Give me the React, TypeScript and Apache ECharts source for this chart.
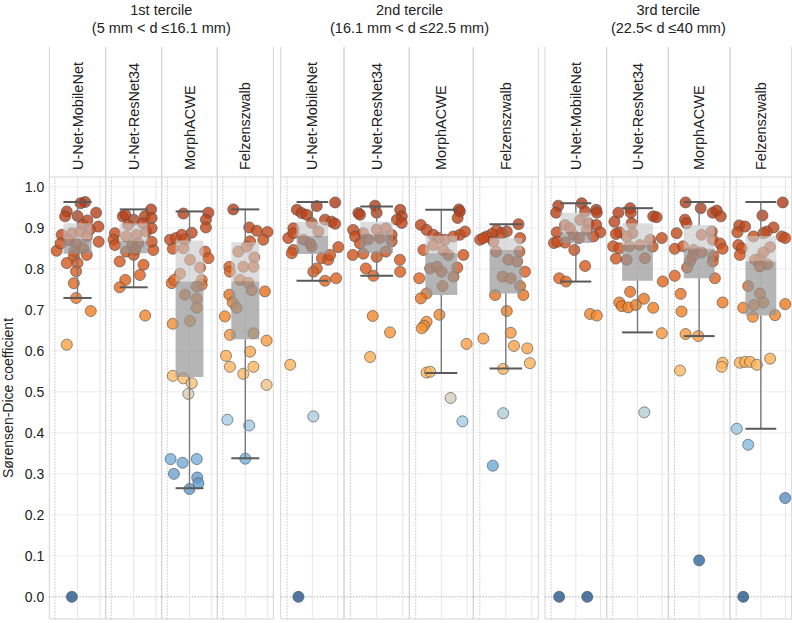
import React, { useEffect, useRef } from "react";
import * as echarts from "echarts";

// ---------- data ----------
const tercileTitles = ["1st tercile", "2nd tercile", "3rd tercile"];
const tercileRanges = ["(5 mm < d ≤16.1 mm)", "(16.1 mm < d ≤22.5 mm)", "(22.5< d ≤40 mm)"];
const methods = ["U-Net-MobileNet", "U-Net-ResNet34", "MorphACWE", "Felzenszwalb"];
const yTicks = [0, 0.1, 0.2, 0.3, 0.4, 0.5, 0.6, 0.7, 0.8, 0.9, 1.0];
const yTitle = "Sørensen-Dice coefficient";

// box stats: [lower whisker, Q1, median, Q3, upper whisker]
const boxT1 = [
  [0.729, 0.837, 0.872, 0.911, 0.963],
  [0.755, 0.838, 0.868, 0.911, 0.945],
  [0.265, 0.536, 0.769, 0.869, 0.94],
  [0.338, 0.628, 0.769, 0.865, 0.945],
];
const boxT2 = [
  [0.771, 0.836, 0.88, 0.915, 0.963],
  [0.783, 0.838, 0.883, 0.915, 0.952],
  [0.546, 0.736, 0.838, 0.881, 0.944],
  [0.557, 0.74, 0.846, 0.875, 0.909],
];
const boxT3 = [
  [0.769, 0.863, 0.889, 0.937, 0.96],
  [0.645, 0.771, 0.858, 0.911, 0.948],
  [0.636, 0.777, 0.849, 0.907, 0.963],
  [0.41, 0.686, 0.818, 0.88, 0.963],
];

// points: [jitter within panel (-1..1), Dice]
const t1MobileNet = [[0.27,0.963],[0.11,0.96],[-0.38,0.94],[-0.44,0.928],[0.0,0.929],[0.66,0.937],[0.35,0.918],[0.74,0.903],[0.18,0.907],[0.44,0.896],[-0.56,0.883],[-0.2,0.887],[0.09,0.891],[0.33,0.879],[-0.74,0.844],[-0.6,0.862],[-0.3,0.87],[-0.03,0.862],[0.2,0.85],[-0.12,0.842],[0.33,0.834],[0.75,0.866],[-0.13,0.83],[-0.38,0.814],[0.0,0.814],[-0.05,0.794],[-0.13,0.765],[-0.05,0.729],[0.47,0.697],[-0.38,0.615],[-0.2,0.0]];
const t1ResNet = [[0.62,0.945],[-0.39,0.928],[-0.3,0.932],[0.0,0.92],[0.4,0.928],[0.64,0.924],[-0.67,0.887],[-0.72,0.871],[-0.67,0.858],[-0.27,0.879],[0.1,0.883],[0.45,0.891],[0.64,0.899],[0.7,0.846],[0.64,0.866],[-0.05,0.858],[0.17,0.862],[-0.27,0.842],[0.05,0.846],[-0.5,0.818],[0.0,0.834],[0.35,0.81],[0.22,0.785],[-0.3,0.773],[-0.5,0.755],[0.41,0.686],[-0.2,0.907],[0.33,0.911]];
const t1Morph = [[-0.22,0.935],[0.68,0.937],[0.59,0.92],[0.59,0.901],[-0.7,0.871],[-0.49,0.875],[-0.28,0.883],[0.08,0.888],[-0.16,0.871],[-0.6,0.849],[-0.22,0.85],[0.56,0.842],[0.68,0.826],[0.02,0.822],[0.38,0.803],[-0.34,0.788],[0.44,0.773],[0.44,0.761],[-0.64,0.765],[-0.55,0.773],[0.26,0.757],[-0.16,0.737],[0.26,0.727],[0.26,0.705],[0.02,0.673],[-0.6,0.666],[-0.6,0.539],[-0.22,0.533],[0.08,0.521],[-0.04,0.495],[-0.68,0.336],[-0.25,0.327],[0.26,0.336],[-0.56,0.3],[0.28,0.291],[0.32,0.277],[0.0,0.263]];
const t1Felz = [[-0.43,0.945],[0.14,0.901],[0.41,0.893],[0.79,0.89],[0.64,0.871],[0.17,0.867],[-0.25,0.842],[0.05,0.854],[0.32,0.828],[-0.07,0.805],[0.29,0.805],[-0.57,0.805],[-0.55,0.793],[-0.19,0.773],[0.11,0.766],[0.23,0.748],[0.7,0.745],[-0.57,0.737],[-0.45,0.718],[-0.31,0.705],[-0.73,0.684],[-0.55,0.639],[0.29,0.643],[0.76,0.625],[-0.69,0.588],[0.17,0.598],[-0.55,0.561],[-0.07,0.544],[0.29,0.561],[0.76,0.517],[-0.64,0.432],[0.14,0.418],[0.0,0.337]];
const t2MobileNet = [[0.72,0.962],[0.14,0.953],[-0.49,0.944],[-0.34,0.936],[-0.18,0.932],[0.4,0.92],[0.61,0.915],[0.72,0.91],[-0.6,0.899],[-0.76,0.875],[-0.6,0.887],[-0.02,0.912],[0.19,0.891],[-0.28,0.871],[-0.07,0.862],[-0.6,0.846],[-0.65,0.838],[0.82,0.853],[0.3,0.826],[0.5,0.822],[0.56,0.834],[0.14,0.801],[0.03,0.793],[0.4,0.771],[0.75,0.777],[-0.02,0.854],[-0.7,0.566],[0.03,0.44],[-0.44,0.0]];
const t2ResNet = [[-0.05,0.954],[-0.56,0.936],[-0.51,0.932],[0.0,0.937],[0.72,0.944],[0.77,0.928],[0.62,0.92],[0.77,0.912],[-0.72,0.895],[-0.66,0.879],[-0.41,0.887],[0.0,0.896],[0.28,0.899],[0.46,0.883],[-0.26,0.872],[0.1,0.875],[-0.51,0.862],[0.46,0.867],[0.28,0.842],[0.0,0.829],[-0.41,0.837],[-0.73,0.834],[0.71,0.822],[-0.33,0.801],[0.72,0.793],[-0.1,0.783],[-0.12,0.685],[0.41,0.645],[-0.2,0.585]];
const t2Morph = [[0.55,0.945],[0.58,0.94],[0.51,0.924],[-0.64,0.907],[-0.46,0.895],[-0.25,0.883],[-0.09,0.875],[0.12,0.871],[0.58,0.883],[0.74,0.891],[0.38,0.879],[-0.56,0.846],[-0.25,0.858],[0.06,0.846],[0.22,0.834],[0.69,0.834],[-0.35,0.801],[-0.14,0.805],[0.01,0.793],[0.38,0.781],[0.5,0.803],[-0.69,0.777],[0.04,0.758],[-0.46,0.74],[-0.64,0.728],[-0.06,0.688],[-0.46,0.671],[-0.54,0.661],[-0.61,0.655],[0.79,0.617],[-0.46,0.547],[-0.35,0.549],[0.29,0.485],[0.66,0.428]];
const t2Felz = [[0.39,0.909],[-0.28,0.895],[0.03,0.891],[-0.13,0.887],[-0.43,0.885],[-0.59,0.879],[-0.79,0.871],[-0.69,0.875],[0.44,0.875],[-0.38,0.867],[0.42,0.842],[-0.3,0.842],[0.08,0.822],[0.35,0.818],[0.59,0.793],[-0.1,0.781],[0.15,0.777],[0.44,0.758],[-0.33,0.736],[0.54,0.736],[0.03,0.697],[0.15,0.644],[-0.69,0.63],[0.25,0.612],[0.66,0.606],[0.74,0.57],[-0.08,0.556],[-0.08,0.448],[-0.4,0.32]];
const t3MobileNet = [[-0.57,0.954],[-0.64,0.937],[0.19,0.96],[0.3,0.94],[0.66,0.944],[0.68,0.937],[0.14,0.919],[0.41,0.911],[-0.35,0.907],[0.66,0.907],[-0.62,0.889],[-0.71,0.863],[0.79,0.889],[0.57,0.879],[-0.08,0.883],[-0.19,0.899],[-0.35,0.864],[-0.05,0.846],[-0.6,0.866],[0.1,0.875],[0.35,0.895],[0.3,0.807],[-0.54,0.777],[-0.32,0.769],[0.46,0.69],[0.68,0.686],[-0.54,0.0],[0.37,0.0]];
const t3ResNet = [[-0.24,0.948],[-0.62,0.937],[-0.22,0.937],[-0.75,0.915],[-0.19,0.911],[0.51,0.928],[0.62,0.926],[-0.59,0.889],[-0.7,0.885],[-0.16,0.887],[-0.35,0.879],[0.79,0.875],[0.41,0.871],[-0.79,0.855],[-0.59,0.85],[0.08,0.858],[-0.27,0.855],[0.49,0.854],[-0.7,0.825],[-0.35,0.822],[0.24,0.826],[0.82,0.769],[-0.24,0.744],[-0.59,0.718],[-0.51,0.709],[-0.3,0.706],[-0.05,0.712],[0.21,0.727],[0.51,0.705],[0.79,0.643],[0.22,0.45]];
const t3Morph = [[-0.44,0.962],[0.05,0.948],[0.44,0.937],[0.57,0.942],[0.7,0.928],[-0.46,0.92],[-0.41,0.911],[-0.73,0.887],[0.41,0.891],[0.08,0.883],[0.44,0.871],[0.68,0.862],[0.76,0.849],[-0.79,0.849],[-0.52,0.855],[-0.17,0.846],[0.08,0.84],[-0.21,0.83],[0.46,0.831],[-0.3,0.818],[0.44,0.818],[-0.39,0.803],[-0.79,0.783],[0.51,0.777],[-0.6,0.739],[0.76,0.718],[-0.57,0.696],[-0.44,0.641],[-0.03,0.636],[0.76,0.571],[0.73,0.561],[-0.62,0.552],[0.0,0.089]];
const t3Felz = [[0.71,0.962],[0.05,0.93],[-0.7,0.906],[-0.51,0.903],[0.41,0.901],[0.19,0.891],[0.08,0.887],[-0.76,0.889],[-0.24,0.879],[0.68,0.879],[0.79,0.875],[-0.73,0.858],[-0.62,0.85],[0.3,0.853],[-0.68,0.834],[0.08,0.84],[-0.05,0.824],[-0.19,0.822],[0.21,0.811],[-0.03,0.806],[-0.41,0.758],[-0.03,0.74],[0.08,0.718],[-0.22,0.712],[-0.57,0.705],[0.79,0.714],[-0.26,0.683],[0.46,0.687],[0.3,0.581],[-0.68,0.571],[-0.51,0.573],[-0.35,0.573],[-0.13,0.566],[-0.78,0.41],[-0.41,0.371],[0.79,0.241],[-0.57,0.0]];

const boxes = [...boxT1, ...boxT2, ...boxT3];
const pointSets = [t1MobileNet, t1ResNet, t1Morph, t1Felz, t2MobileNet, t2ResNet, t2Morph, t2Felz, t3MobileNet, t3ResNet, t3Morph, t3Felz];

// colour scale of the points (value -> colour)
const colorStopValues = [0, 0.1, 0.25, 0.33, 0.43, 0.49, 0.53, 0.6, 0.7, 0.8, 0.9, 1.0];
const colorStopColors = ["#25568a", "#3368a0", "#5a92c6", "#72acd9", "#a2cde6", "#d8cdb6", "#fcbd6a", "#fba64a", "#f07f22", "#d9591a", "#c0461a", "#a43414"];

// ---------- layout ----------
const FONT = "'Liberation Sans', Arial, Helvetica, sans-serif";
const panelEdges = [
  [49.3, 105.7], [105.7, 161.7], [161.7, 217.3], [217.3, 273.3],
  [280.7, 344], [344, 409.3], [409.3, 473.3], [473.3, 538.3],
  [545, 606.7], [606.7, 668.3], [668.3, 730], [730, 791.7],
];
const PLOT_TOP = 177;
const PLOT_BOTTOM = 619;
const STRIP_TOP = 47;
const Y_MIN = -0.054;
const Y_MAX = 1.024;

function hexToRgb(h: string) {
  const n = parseInt(h.slice(1), 16);
  return [(n >> 16) & 255, (n >> 8) & 255, n & 255];
}
function colorFor(v: number) {
  let i = 0;
  while (i < colorStopValues.length - 2 && v > colorStopValues[i + 1]) i++;
  const t = Math.max(0, Math.min(1, (v - colorStopValues[i]) / (colorStopValues[i + 1] - colorStopValues[i])));
  const a = hexToRgb(colorStopColors[i]);
  const b = hexToRgb(colorStopColors[i + 1]);
  const c = a.map((x, k) => Math.round(x + (b[k] - x) * t));
  return `rgb(${c[0]},${c[1]},${c[2]})`;
}

export default function App() {
  const ref = useRef<HTMLDivElement>(null);
  useEffect(() => {
    if (!ref.current) return;
    const chart = echarts.init(ref.current, undefined, { renderer: "svg" });

    const grids = panelEdges.map((p) => ({
      left: p[0],
      width: p[1] - p[0],
      top: PLOT_TOP,
      height: PLOT_BOTTOM - PLOT_TOP,
      show: true,
      borderColor: "#d4d4d4",
      borderWidth: 1,
      backgroundColor: "transparent",
    }));
    const xAxes = panelEdges.map((_, i) => ({
      type: "value", gridIndex: i, min: -1, max: 1, show: false,
    }));
    const yAxes = panelEdges.map((_, i) => ({
      type: "value",
      gridIndex: i,
      min: Y_MIN,
      max: Y_MAX,
      axisLine: { show: false },
      axisTick: { show: false },
      splitLine: { show: false },
      axisLabel: i === 0
        ? {
            show: true,
            customValues: yTicks,
            formatter: (v: number) => v.toFixed(1),
            fontSize: 14,
            color: "#222",
            margin: 5,
            fontFamily: FONT,
          }
        : { show: false },
    }));

    const series: any[] = [];
    panelEdges.forEach((_, i) => {
      // grid lines
      series.push({
        type: "custom",
        xAxisIndex: i,
        yAxisIndex: i,
        silent: true,
        z: 1,
        data: [[0, 0.5]],
        renderItem: (params: any, api: any) => {
          const children: any[] = [];
          yTicks.forEach((t) => {
            const a = api.coord([-1, t]);
            const b = api.coord([1, t]);
            children.push({
              type: "line",
              shape: { x1: a[0], y1: a[1], x2: b[0], y2: b[1] },
              style: t === 0
                ? { stroke: "#b0b0b0", lineWidth: 1, lineDash: [1.5, 1.5] }
                : { stroke: "#ececec", lineWidth: 1 },
            });
          });
          [-0.8, 0, 0.8].forEach((xv) => {
            const a = api.coord([xv, Y_MIN]);
            const b = api.coord([xv, Y_MAX]);
            children.push({
              type: "line",
              shape: { x1: a[0], y1: a[1], x2: b[0], y2: b[1] },
              style: xv === -0.8
                ? { stroke: "#c6c6c6", lineWidth: 1, lineDash: [1.5, 1.5] }
                : { stroke: "#e6e6e6", lineWidth: 1 },
            });
          });
          return { type: "group", children };
        },
      });
      // points
      series.push({
        type: "scatter",
        xAxisIndex: i,
        yAxisIndex: i,
        z: 2,
        symbolSize: 11,
        data: pointSets[i].map((d) => ({
          value: d,
          itemStyle: { color: colorFor(d[1]), borderColor: "#4d4d4d", borderWidth: 0.8 },
        })),
      });
      // box + whiskers
      series.push({
        type: "custom",
        xAxisIndex: i,
        yAxisIndex: i,
        silent: true,
        z: 3,
        data: [[0, ...boxes[i]]],
        renderItem: (params: any, api: any) => {
          const lw = api.value(1), q1 = api.value(2), med = api.value(3), q3 = api.value(4), uw = api.value(5);
          const hw = 0.5;
          const pUw = api.coord([0, uw]);
          const pQ3 = api.coord([0, q3]);
          const pMed = api.coord([0, med]);
          const pQ1 = api.coord([0, q1]);
          const pLw = api.coord([0, lw]);
          const xl = api.coord([-hw, 0])[0];
          const xr = api.coord([hw, 0])[0];
          return {
            type: "group",
            children: [
              { type: "rect", shape: { x: xl, y: pQ3[1], width: xr - xl, height: pMed[1] - pQ3[1] }, style: { fill: "rgba(200,200,200,0.62)" } },
              { type: "rect", shape: { x: xl, y: pMed[1], width: xr - xl, height: pQ1[1] - pMed[1] }, style: { fill: "rgba(150,150,150,0.7)" } },
              { type: "line", shape: { x1: pUw[0], y1: pUw[1], x2: pQ3[0], y2: pQ3[1] }, style: { stroke: "#7a7a7a", lineWidth: 1.4 } },
              { type: "line", shape: { x1: pQ1[0], y1: pQ1[1], x2: pLw[0], y2: pLw[1] }, style: { stroke: "#7a7a7a", lineWidth: 1.4 } },
              { type: "line", shape: { x1: xl, y1: pUw[1], x2: xr, y2: pUw[1] }, style: { stroke: "#5a5a5a", lineWidth: 2 } },
              { type: "line", shape: { x1: xl, y1: pLw[1], x2: xr, y2: pLw[1] }, style: { stroke: "#5a5a5a", lineWidth: 2 } },
            ],
          };
        },
      });
    });

    const graphics: any[] = [];
    // tercile titles
    [0, 1, 2].forEach((t) => {
      const cx = (panelEdges[t * 4][0] + panelEdges[t * 4 + 3][1]) / 2;
      graphics.push({
        type: "text", x: cx, y: 10,
        style: { text: tercileTitles[t], fontSize: 14.5, fontFamily: FONT, fill: "#222", textAlign: "center", textVerticalAlign: "middle" },
      });
      graphics.push({
        type: "text", x: cx, y: 28,
        style: { text: tercileRanges[t], fontSize: 14.5, fontFamily: FONT, fill: "#222", textAlign: "center", textVerticalAlign: "middle" },
      });
    });
    // strips
    panelEdges.forEach((p, i) => {
      graphics.push({ type: "line", shape: { x1: p[0], y1: STRIP_TOP, x2: p[0], y2: PLOT_TOP }, style: { stroke: "#d4d4d4", lineWidth: 1 } });
      graphics.push({ type: "line", shape: { x1: p[1], y1: STRIP_TOP, x2: p[1], y2: PLOT_TOP }, style: { stroke: "#d4d4d4", lineWidth: 1 } });
      graphics.push({
        type: "text",
        x: (p[0] + p[1]) / 2,
        y: 170,
        rotation: Math.PI / 2,
        style: { text: methods[i % 4], fontSize: 14.5, fontFamily: FONT, fill: "#222", textAlign: "left", textVerticalAlign: "middle" },
      });
    });
    // y-axis title
    graphics.push({
      type: "text",
      x: 8,
      y: (PLOT_TOP + PLOT_BOTTOM) / 2,
      rotation: Math.PI / 2,
      style: { text: yTitle, fontSize: 14, fontFamily: FONT, fill: "#222", textAlign: "center", textVerticalAlign: "middle" },
    });

    chart.setOption({
      animation: false,
      backgroundColor: "#ffffff",
      grid: grids,
      xAxis: xAxes,
      yAxis: yAxes,
      series,
      graphic: graphics,
    });
    return () => chart.dispose();
  }, []);
  return <div ref={ref} style={{ position: "fixed", left: 0, top: 0, width: 792, height: 623 }} />;
}
